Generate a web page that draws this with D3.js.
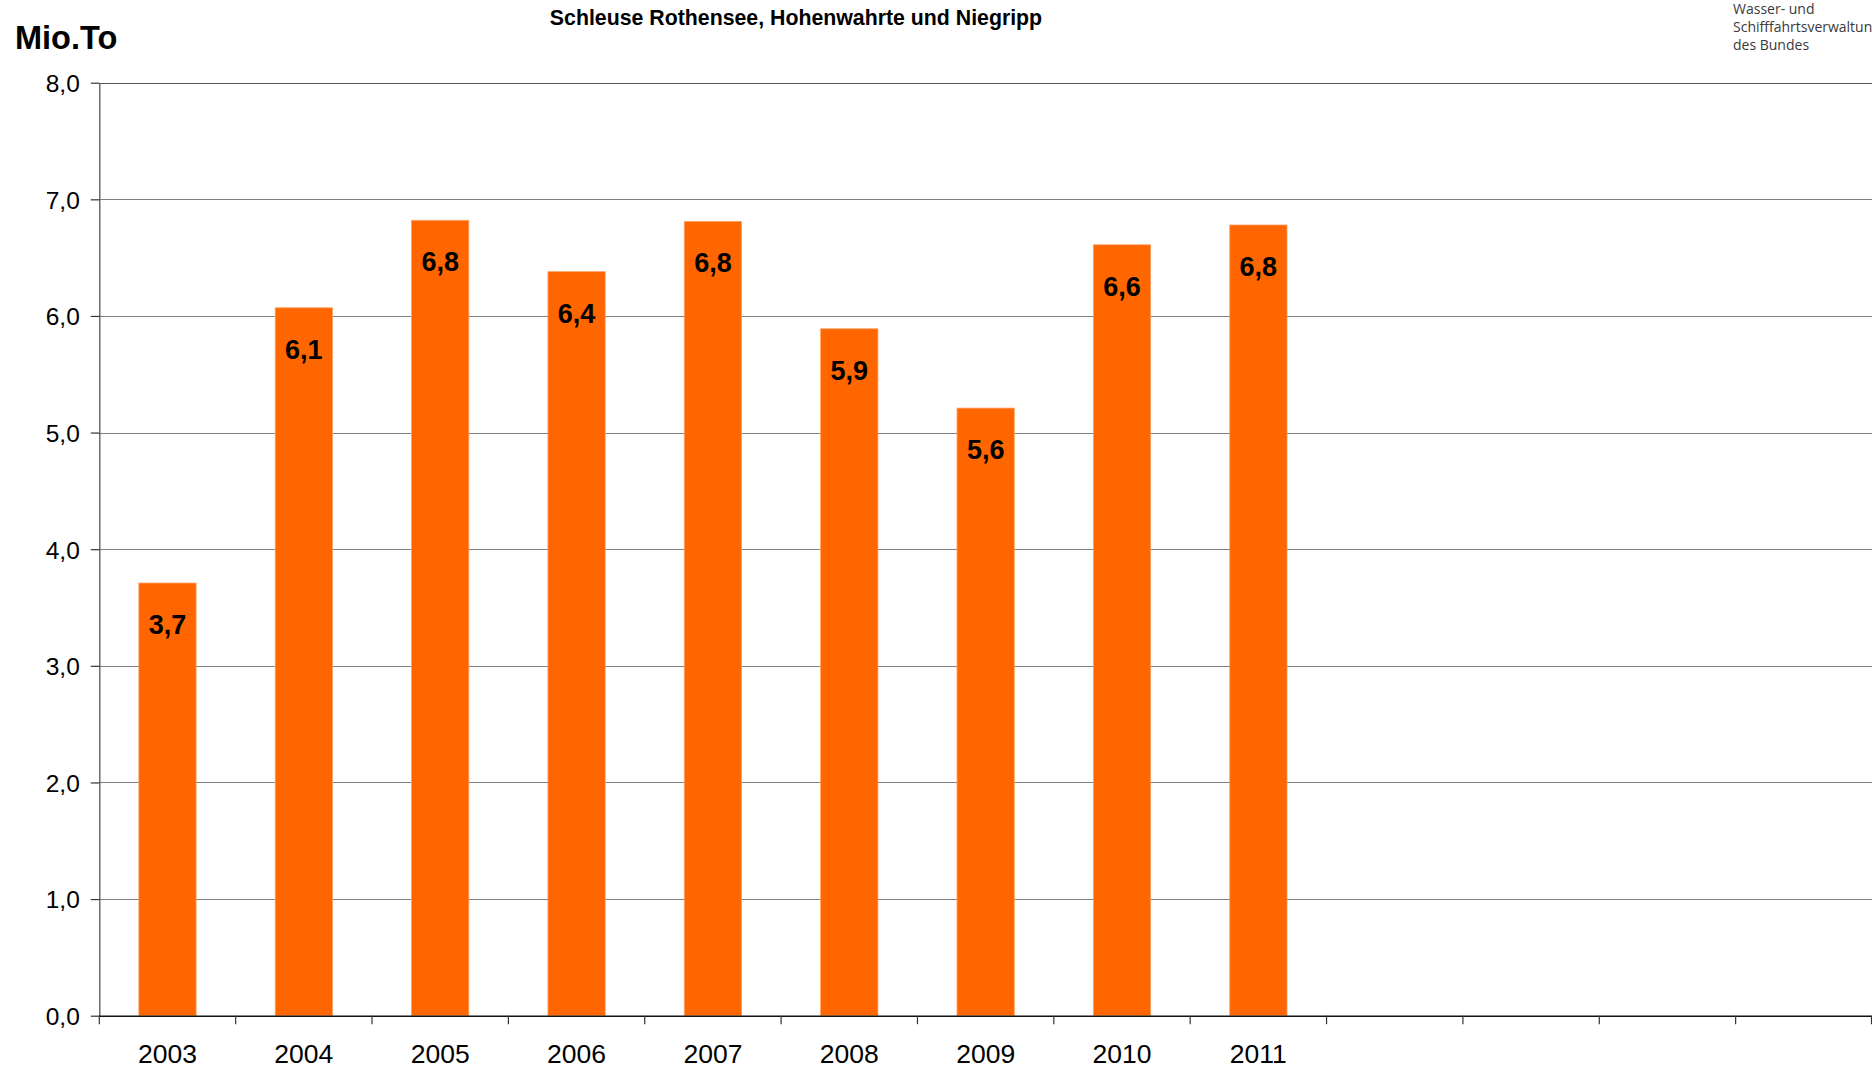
<!DOCTYPE html>
<html>
<head>
<meta charset="utf-8">
<script src="https://cdn.jsdelivr.net/npm/d3@7/dist/d3.min.js"></script>
<style>
  html, body { margin: 0; padding: 0; background: #fff; overflow: hidden; }
  svg { display: block; }
  text { font-family: "Liberation Sans", Arial, sans-serif; }
</style>
</head>
<body>
<svg id="chart" width="1872" height="1069"></svg>
<script>
// ---- data ----
const slots = ["2003","2004","2005","2006","2007","2008","2009","2010","2011","2012","2013","2014","2015"];
const years = ["2003","2004","2005","2006","2007","2008","2009","2010","2011"];
const values = [3.71, 6.07, 6.82, 6.38, 6.81, 5.89, 5.21, 6.61, 6.78];
const valueLabels = ["3,7","6,1","6,8","6,4","6,8","5,9","5,6","6,6","6,8"];
const yTicks = [0, 1, 2, 3, 4, 5, 6, 7, 8];
const title = "Schleuse Rothensee, Hohenwahrte und Niegripp";
const unitLabel = "Mio.To";
const logoLines = ["Wasser- und", "Schifffahrtsverwaltung", "des Bundes"];

(function () {
// ---- layout ----
const mLeft = 99.3, mRight = 1872, mTop = 82.7, mBottom = 1015.7;
const svg = d3.select("#chart");

const x = d3.scaleBand().domain(slots).range([mLeft, mRight]).paddingInner(0).paddingOuter(0);
const barW = x.bandwidth() * 0.42;
const y = d3.scaleLinear().domain([0, 8]).range([mBottom, mTop]);
const fmt = d => d3.format(".1f")(d).replace(".", ",");

// gridlines
svg.append("g").selectAll("line").data(yTicks.filter(d => d > 0)).join("line")
  .attr("x1", mLeft).attr("x2", mRight)
  .attr("y1", d => Math.round(y(d)) + 0.5).attr("y2", d => Math.round(y(d)) + 0.5)
  .attr("stroke", d => d === 8 ? "#555" : "#808080").attr("stroke-width", 1.2);

// bars
svg.append("g").selectAll("rect").data(years).join("rect")
  .attr("x", (d) => x(d) + (x.bandwidth() - barW) / 2)
  .attr("width", barW)
  .attr("y", (d, i) => y(values[i]))
  .attr("height", (d, i) => y(0) - y(values[i]))
  .attr("fill", "#FF6600")
  .attr("stroke", "#FFA060").attr("stroke-width", 0.8);

// value labels
svg.append("g").selectAll("text").data(years).join("text")
  .attr("x", d => x(d) + x.bandwidth() / 2)
  .attr("y", (d, i) => y(values[i]) + 42)
  .attr("text-anchor", "middle").attr("dominant-baseline", "central")
  .attr("font-weight", "bold").attr("font-size", 27).attr("fill", "#000")
  .text((d, i) => valueLabels[i]);

// y axis
const yAxis = d3.axisLeft(y).tickValues(yTicks).tickFormat(fmt).tickSize(8.5).tickSizeOuter(0);
const gy = svg.append("g").attr("transform", `translate(${mLeft},0)`).call(yAxis);
gy.select(".domain").attr("stroke", "#555").attr("stroke-width", 1.3);
gy.selectAll(".tick line").attr("stroke", "#333").attr("stroke-width", 1.2);
gy.selectAll(".tick text").attr("font-size", 24.5).attr("fill", "#000")
  .attr("x", -19.5).attr("dy", "0.36em")
  .style("font-family", '"Liberation Sans", Arial, sans-serif');

// x axis: ticks at slot boundaries
const boundaries = slots.map(s => x(s)).concat([mRight - 0.5]);
svg.append("line").attr("x1", mLeft).attr("x2", mRight)
  .attr("y1", mBottom + 0.5).attr("y2", mBottom + 0.5)
  .attr("stroke", "#111").attr("stroke-width", 1.5);
svg.append("g").selectAll("line").data(boundaries).join("line")
  .attr("x1", d => d).attr("x2", d => d)
  .attr("y1", mBottom).attr("y2", mBottom + 8.5)
  .attr("stroke", "#333").attr("stroke-width", 1.2);
svg.append("g").selectAll("text").data(years).join("text")
  .attr("x", d => x(d) + x.bandwidth() / 2)
  .attr("y", 1062.5)
  .attr("text-anchor", "middle")
  .attr("font-size", 26.5).attr("fill", "#000")
  .text(d => d);

// title
svg.append("text").attr("x", 796).attr("y", 25)
  .attr("text-anchor", "middle").attr("font-weight", "bold").attr("font-size", 21.3)
  .attr("fill", "#000").text(title);

// unit label
svg.append("text").attr("x", 15).attr("y", 49)
  .attr("font-weight", "bold").attr("font-size", 32.5).attr("fill", "#000").text(unitLabel);

// logo text
svg.append("g").selectAll("text").data(logoLines).join("text")
  .attr("x", 1733).attr("y", (d, i) => 14 + i * 18)
  .attr("font-size", 14).attr("fill", "#3a3a3a")
  .style("font-family", '"Open Sans", "Noto Sans", sans-serif')
  .text(d => d);
})();
</script>
</body>
</html>
